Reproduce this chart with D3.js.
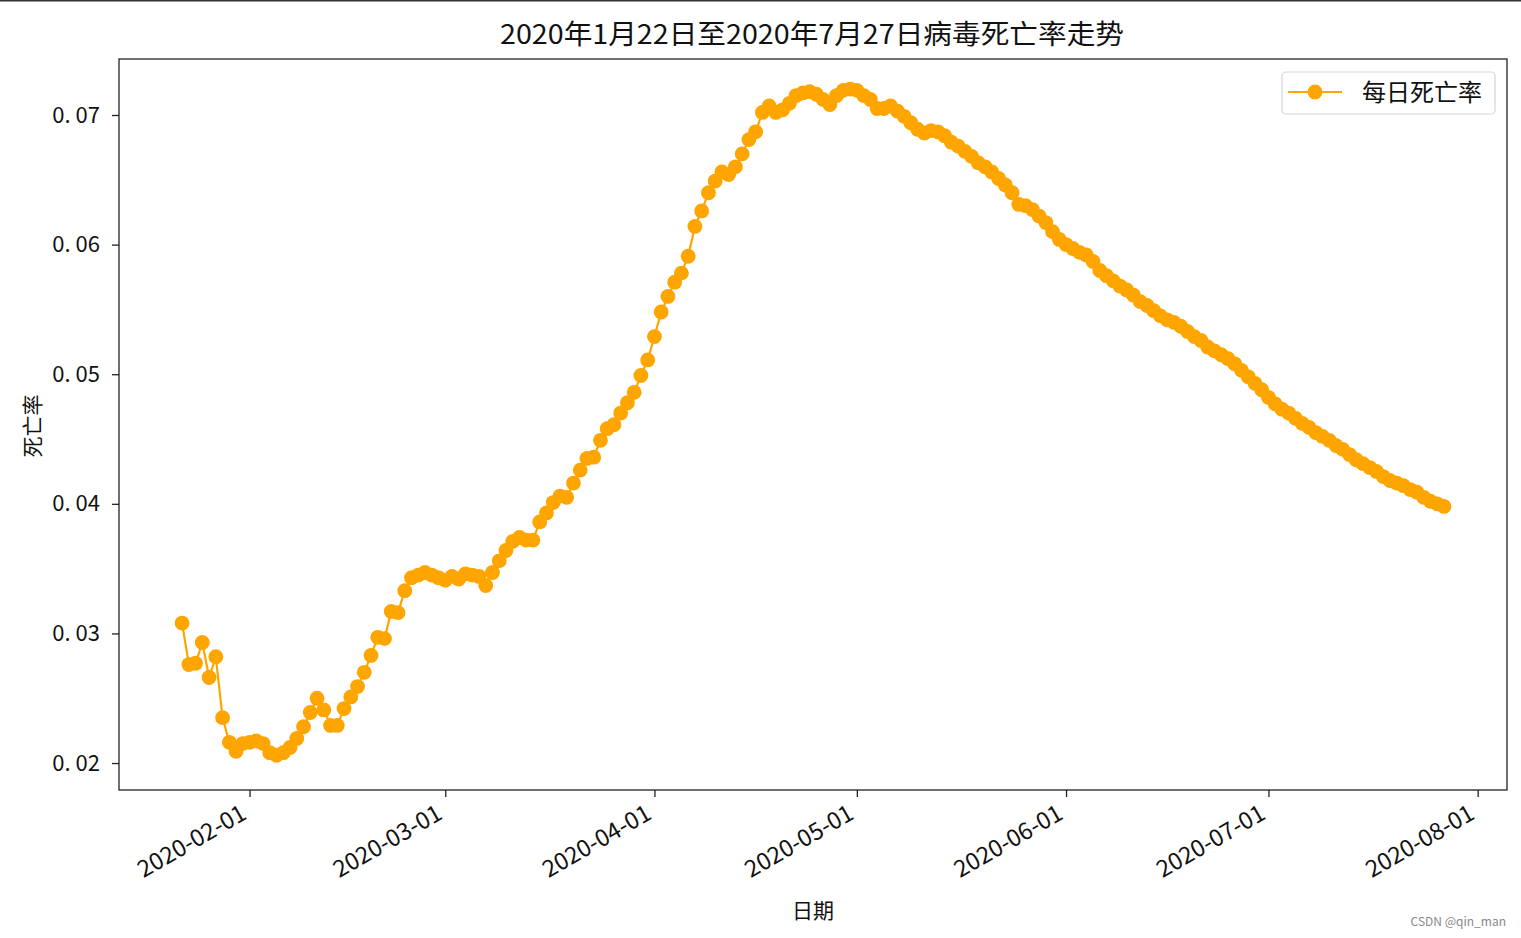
<!DOCTYPE html>
<html>
<head>
<meta charset="utf-8">
<script src="https://cdn.jsdelivr.net/npm/d3@7"></script>
<style>
  html, body { margin: 0; padding: 0; background: #fff; }
  svg { display: block; }
  text { font-family: "Noto Sans CJK SC", "DejaVu Sans", sans-serif; fill: #111; }
</style>
</head>
<body>
<svg id="chart" width="1521" height="938"></svg>
<script>
// ---------------- data ----------------
const startDate = "2020-01-22";
const janValues = [0.0308,0.0276,0.0277,0.0293,0.0266,0.0282,0.0235,0.0216,0.0209,0.0215];
const febValues = [0.0216,0.0217,0.0215,0.0208,0.0206,0.0208,0.0212,0.0219,0.0228,0.0239,
                   0.0250,0.0241,0.0229,0.0229,0.0242,0.0251,0.0259,0.0270,0.0283,0.0297,
                   0.0296,0.0317,0.0316,0.0333,0.0343,0.0345,0.0347,0.0345,0.0343];
const marValues = [0.0341,0.0344,0.0342,0.0346,0.0345,0.0344,0.0337,0.0347,0.0356,0.0364,
                   0.0371,0.0374,0.0372,0.0372,0.0386,0.0393,0.0401,0.0406,0.0405,0.0416,
                   0.0426,0.0435,0.0436,0.0449,0.0458,0.0461,0.0470,0.0478,0.0486,0.0499,0.0511];
const aprValues = [0.0529,0.0548,0.0560,0.0571,0.0578,0.0591,0.0614,0.0626,0.0640,0.0649,
                   0.0656,0.0654,0.0660,0.0670,0.0681,0.0687,0.0702,0.0707,0.0702,0.0704,
                   0.0709,0.0715,0.0717,0.0718,0.0716,0.0712,0.0708,0.0715,0.0719,0.0720];
const mayValues = [0.0719,0.0715,0.0712,0.0705,0.0705,0.0707,0.0703,0.0699,0.0694,0.0689,
                   0.0686,0.0688,0.0687,0.0684,0.0679,0.0676,0.0672,0.0668,0.0663,0.0660,
                   0.0656,0.0651,0.0646,0.0640,0.0631,0.0630,0.0627,0.0622,0.0617,0.0610,0.0604];
const junValues = [0.0600,0.0597,0.0594,0.0592,0.0587,0.0580,0.0576,0.0572,0.0568,0.0565,
                   0.0561,0.0556,0.0553,0.0549,0.0545,0.0542,0.0540,0.0537,0.0533,0.0529,
                   0.0526,0.0521,0.0518,0.0515,0.0512,0.0508,0.0503,0.0498,0.0493,0.0488];
const julValues = [0.0482,0.0477,0.0473,0.0470,0.0466,0.0462,0.0459,0.0455,0.0452,0.0449,
                   0.0445,0.0442,0.0438,0.0434,0.0431,0.0428,0.0425,0.0421,0.0418,0.0416,
                   0.0414,0.0411,0.0409,0.0405,0.0402,0.0400,0.0398];
const yTicks = [0.02, 0.03, 0.04, 0.05, 0.06, 0.07];
const yDomain = [0.01792, 0.07432];
const xTickLabels = ["2020-02-01","2020-03-01","2020-04-01","2020-05-01","2020-06-01","2020-07-01","2020-08-01"];
const titleText = "2020年1月22日至2020年7月27日病毒死亡率走势";
const seriesName = "每日死亡率";
const xLabel = "日期";
const yLabel = "死亡率";

// ---------------- build ----------------
const values = [].concat(janValues, febValues, marValues, aprValues, mayValues, junValues, julValues);
const parse = d3.timeParse("%Y-%m-%d");
const t0 = parse(startDate);
const data = values.map((v, i) => ({ date: d3.timeDay.offset(t0, i), value: v }));

const svg = d3.select("#chart");
const W = 1521, H = 938;
const plot = { left: 119, right: 1507, top: 59, bottom: 790 };
const color = "#FFA500";

// top border strip as in the screenshot
svg.append("rect").attr("x", 0).attr("y", 0).attr("width", W).attr("height", 1.5).attr("fill", "#333");

// scales (5% padding like matplotlib)
const tMin = data[0].date, tMax = data[data.length - 1].date;
const span = tMax - tMin;
const x = d3.scaleTime()
  .domain([new Date(+tMin - span * 0.05), new Date(+tMax + span * 0.05)])
  .range([plot.left, plot.right]);
const y = d3.scaleLinear().domain(yDomain).range([plot.bottom, plot.top]);

// axes
const xAxis = d3.axisBottom(x)
  .tickValues(xTickLabels.map(parse))
  .tickFormat(d3.timeFormat("%Y-%m-%d"))
  .tickSize(7).tickPadding(4);
const gx = svg.append("g").attr("transform", `translate(0,${plot.bottom})`).call(xAxis);
gx.select(".domain").remove();
gx.selectAll(".tick line").attr("stroke", "#222").attr("stroke-width", 1.3);
gx.selectAll(".tick text")
  .attr("font-size", 23.5)
  .attr("fill", "#111")
  .attr("text-anchor", "end")
  .attr("dy", null)
  .attr("y", 0)
  .attr("transform", "translate(-2,28) rotate(-30)");

const yAxis = d3.axisLeft(y).tickValues(yTicks)
  .tickFormat(d => d.toFixed(2).replace(".", ". "))
  .tickSize(7).tickPadding(12);
const gy = svg.append("g").attr("transform", `translate(${plot.left},0)`).call(yAxis);
gy.select(".domain").remove();
gy.selectAll(".tick line").attr("stroke", "#222").attr("stroke-width", 1.3);
gy.selectAll(".tick text").attr("font-size", 22).attr("fill", "#111").style("white-space", "pre");

// frame
svg.append("rect")
  .attr("x", plot.left).attr("y", plot.top)
  .attr("width", plot.right - plot.left).attr("height", plot.bottom - plot.top)
  .attr("fill", "none").attr("stroke", "#222").attr("stroke-width", 1.3);

// line + markers
const line = d3.line().x(d => x(d.date)).y(d => y(d.value));
svg.append("path").datum(data)
  .attr("d", line).attr("fill", "none").attr("stroke", color).attr("stroke-width", 2.2);
svg.append("g").selectAll("circle").data(data).join("circle")
  .attr("cx", d => x(d.date)).attr("cy", d => y(d.value)).attr("r", 7.4)
  .attr("fill", color);

// title and labels
svg.append("text").attr("x", 812).attr("y", 44).attr("text-anchor", "middle")
  .attr("font-size", 27).attr("textLength", 624).attr("lengthAdjust", "spacingAndGlyphs")
  .text(titleText);
svg.append("text").attr("x", 813).attr("y", 918).attr("text-anchor", "middle")
  .attr("font-size", 21).text(xLabel);
svg.append("text").attr("transform", "translate(40,426) rotate(-90)").attr("text-anchor", "middle")
  .attr("font-size", 21).text(yLabel);

// legend
const lg = svg.append("g");
lg.append("rect").attr("x", 1282).attr("y", 72).attr("width", 213).attr("height", 42)
  .attr("rx", 4).attr("fill", "#fff").attr("stroke", "#d6d6d6").attr("stroke-width", 1.2);
lg.append("line").attr("x1", 1288).attr("x2", 1342).attr("y1", 92).attr("y2", 92)
  .attr("stroke", color).attr("stroke-width", 2.2);
lg.append("circle").attr("cx", 1315).attr("cy", 92).attr("r", 7.4).attr("fill", color);
lg.append("text").attr("x", 1362).attr("y", 101).attr("font-size", 24).text(seriesName);

// watermark
svg.append("text").attr("x", 1506).attr("y", 926).attr("text-anchor", "end")
  .attr("font-size", 12).style("fill", "#888").attr("font-family", "Liberation Sans, Arial, sans-serif")
  .text("CSDN @qin_man");
</script>
</body>
</html>
